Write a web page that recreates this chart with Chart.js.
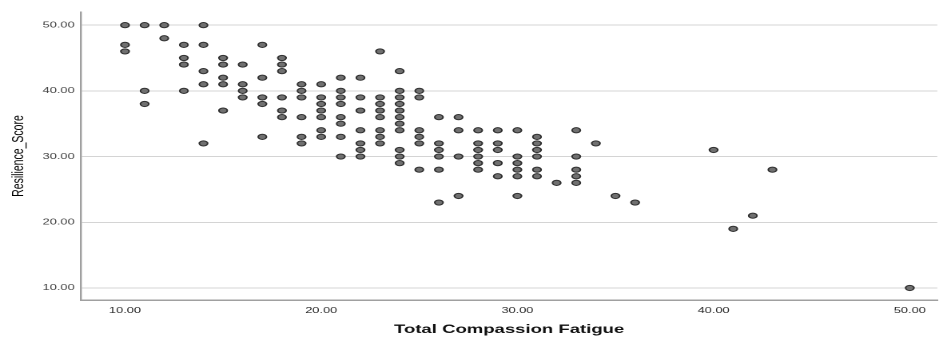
<!DOCTYPE html>
<html lang="en">
<head>
    <meta charset="UTF-8">
    <title>Resilience vs Compassion Fatigue</title>
    <style>
        html, body { margin: 0; padding: 0; background: #fff; overflow: hidden; }
        /* the reference export is stretched sideways, so draw narrow and stretch the canvas */
        #wrap { width: 590px; height: 337px; transform: scaleX(1.5983); transform-origin: 0 0; }
    </style>
</head>
<body>
    <div id="wrap"><canvas id="myChart" width="590" height="337"></canvas></div>

    <script src="https://cdn.jsdelivr.net/npm/chart.js"></script>
    <script>
        // one entry per respondent: Total Compassion Fatigue / Resilience_Score
        const compassionFatigue = [
            10, 10, 10,  11, 11, 11,  12, 12,  13, 13, 13, 13,
            14, 14, 14, 14, 14,  15, 15, 15, 15, 15,  16, 16, 16, 16,
            17, 17, 17, 17, 17,  18, 18, 18, 18, 18, 18,
            19, 19, 19, 19, 19, 19,  20, 20, 20, 20, 20, 20, 20,
            21, 21, 21, 21, 21, 21, 21, 21,  22, 22, 22, 22, 22, 22, 22,
            23, 23, 23, 23, 23, 23, 23, 23,
            24, 24, 24, 24, 24, 24, 24, 24, 24, 24, 24,
            25, 25, 25, 25, 25, 25,  26, 26, 26, 26, 26, 26,  27, 27, 27, 27,
            28, 28, 28, 28, 28, 28,  29, 29, 29, 29, 29,  30, 30, 30, 30, 30, 30,
            31, 31, 31, 31, 31, 31,  32,  33, 33, 33, 33, 33,  34, 35, 36,
            40, 41, 42, 43, 50
        ];
        const resilienceScore = [
            50, 47, 46,  50, 40, 38,  50, 48,  47, 45, 44, 40,
            50, 47, 43, 41, 32,  45, 44, 42, 41, 37,  44, 41, 40, 39,
            47, 42, 39, 38, 33,  45, 44, 43, 39, 37, 36,
            41, 40, 39, 36, 33, 32,  41, 39, 38, 37, 36, 34, 33,
            42, 40, 39, 38, 36, 35, 33, 30,  42, 39, 37, 34, 32, 31, 30,
            46, 39, 38, 37, 36, 34, 33, 32,
            43, 40, 39, 38, 37, 36, 35, 34, 31, 30, 29,
            40, 39, 34, 33, 32, 28,  36, 32, 31, 30, 28, 23,  36, 34, 30, 24,
            34, 32, 31, 30, 29, 28,  34, 32, 31, 29, 27,  34, 30, 29, 28, 27, 24,
            33, 32, 31, 30, 28, 27,  26,  34, 30, 28, 27, 26,  32, 24, 23,
            31, 19, 21, 28, 10
        ];
        const xTicks = [10, 20, 30, 40, 50];
        const yTicks = [10, 20, 30, 40, 50];

        const points = compassionFatigue.map((x, i) => ({ x: x, y: resilienceScore[i] }));
        const fam = "'Liberation Sans', Arial, sans-serif";
        const tickFont = { family: fam, size: 8 };

        new Chart(document.getElementById('myChart'), {
            type: 'scatter',
            data: {
                datasets: [{
                    data: points,
                    pointStyle: 'circle',
                    pointRadius: 2.6,
                    pointHoverRadius: 2.6,
                    borderWidth: 1,
                    pointBackgroundColor: '#707070',
                    pointBorderColor: '#303030'
                }]
            },
            options: {
                responsive: false,
                devicePixelRatio: 2,
                animation: false,
                layout: { padding: { top: 12, right: 1.8, left: 0, bottom: 0 } },
                plugins: { legend: { display: false }, tooltip: { enabled: false } },
                scales: {
                    x: {
                        type: 'linear',
                        min: 7.76,
                        max: 51.4,
                        afterBuildTicks: s => { s.ticks = xTicks.map(v => ({ value: v })); },
                        afterFit: s => { s.height = 37; },
                        grid: { display: false, drawTicks: false, tickLength: 0 },
                        border: { display: true, color: '#a0a0a0', width: 1.5 },
                        ticks: {
                            padding: 6,
                            color: '#2a2a2a',
                            font: tickFont,
                            maxRotation: 0,
                            callback: v => Number(v).toFixed(2)
                        },
                        title: {
                            display: true,
                            text: 'Total Compassion Fatigue',
                            color: '#111',
                            font: { family: fam, size: 11.6, weight: 'bold' },
                            padding: { top: 0, bottom: 0 }
                        }
                    },
                    y: {
                        type: 'linear',
                        min: 8.17,
                        max: 52,
                        afterBuildTicks: s => { s.ticks = yTicks.map(v => ({ value: v })); },
                        afterFit: s => { s.width = 50.7; },
                        grid: { color: '#d4d4d4', lineWidth: 1, drawTicks: false, tickLength: 0 },
                        border: { display: true, color: '#a0a0a0', width: 1.2 },
                        ticks: {
                            padding: 4,
                            color: '#444',
                            font: tickFont,
                            callback: v => Number(v).toFixed(2)
                        },
                        title: {
                            display: true,
                            text: 'Resilience_Score',
                            color: '#000',
                            font: { family: fam, size: 10.5 },
                            padding: { top: 5.5, bottom: 0 }
                        }
                    }
                }
            }
        });
    </script>
</body>
</html>
